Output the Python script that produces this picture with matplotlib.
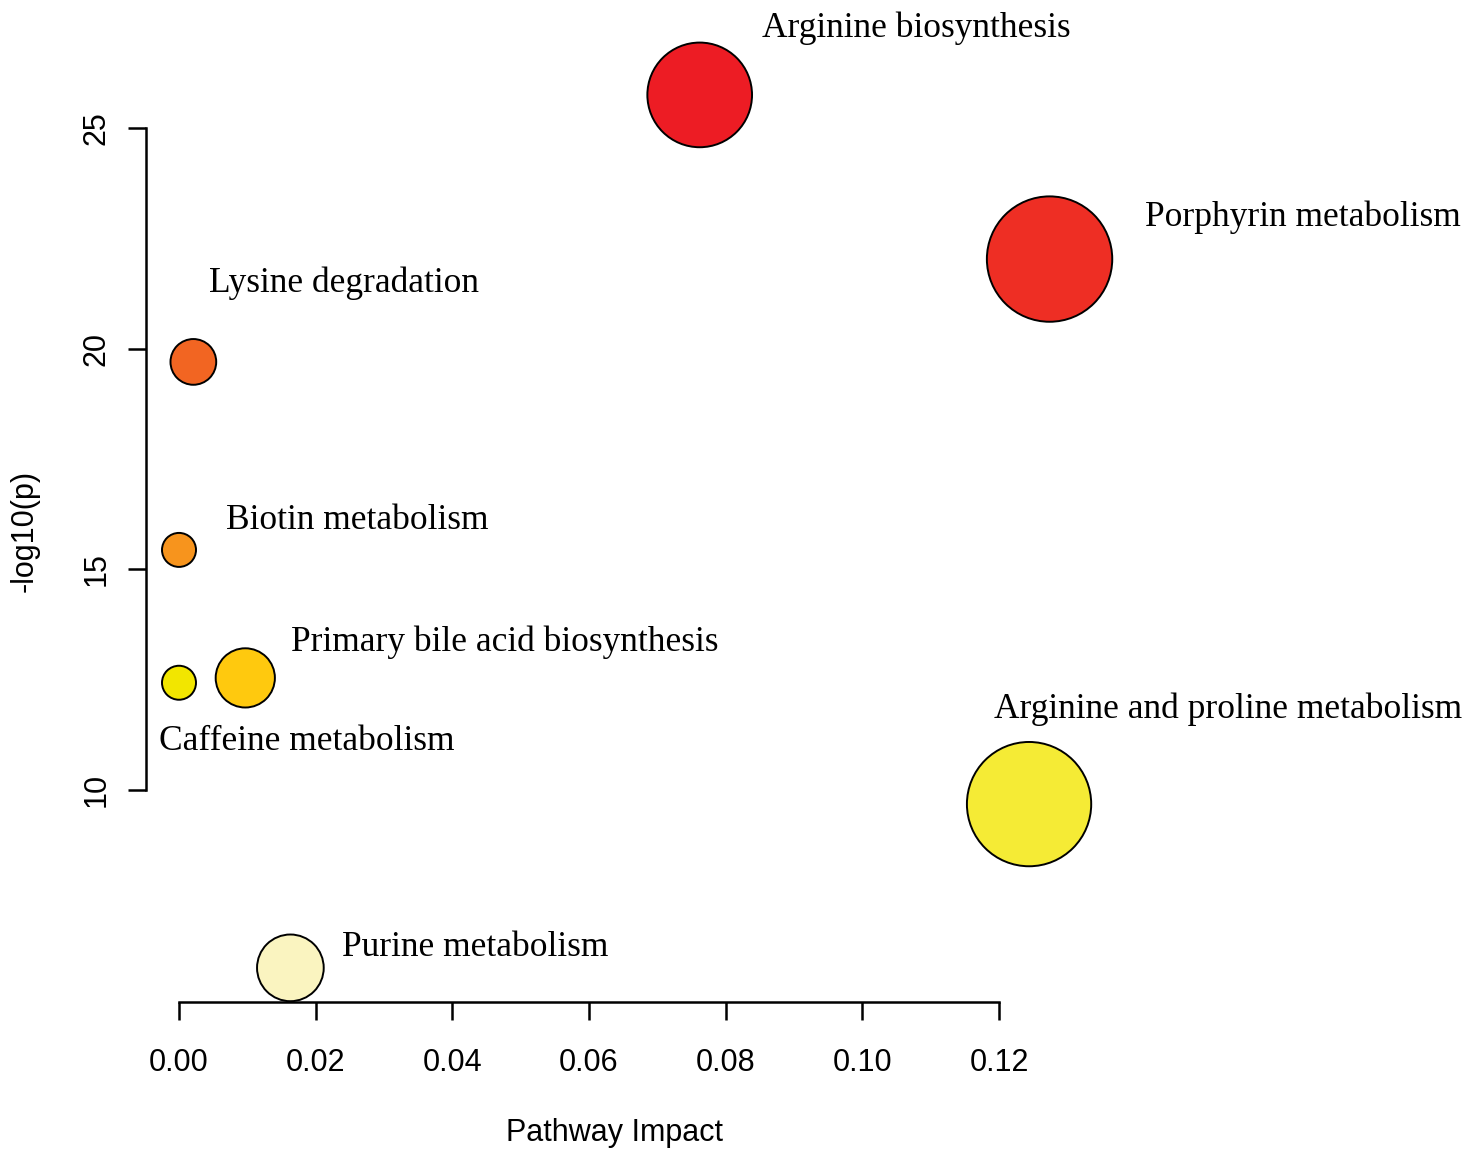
import numpy as np
import matplotlib
matplotlib.use("Agg")
import matplotlib.pyplot as plt

# pathway data
pathways = ["Arginine biosynthesis", "Porphyrin metabolism", "Lysine degradation",
            "Biotin metabolism", "Primary bile acid biosynthesis", "Caffeine metabolism",
            "Arginine and proline metabolism", "Purine metabolism"]
impact = [0.0762, 0.1274, 0.0021, 0.0, 0.0097, 0.0, 0.1244, 0.0163]
neglogp = [25.75, 22.03, 19.70, 15.44, 12.54, 12.43, 9.68, 5.97]
colors = ["#ED1C24", "#EE2E24", "#F26522", "#F7941D", "#FFC90E", "#F2E600", "#F5EB35", "#FAF4C0"]

# label offsets (pixels) relative to each bubble
label_dx = [62, 95, 16, 47, 46, -20, -35, 52]
label_dy = [67, 42, 79, 29, 36, -59, 95, 20]

xticks = [0.00, 0.02, 0.04, 0.06, 0.08, 0.10, 0.12]
yticks = [10, 15, 20, 25]

W, H = 1476, 1164
fig = plt.figure(figsize=(W / 100, H / 100), dpi=100)
# axes box in pixels: left spine at x=146, bottom spine at y=1002
ax = fig.add_axes([146 / W, (H - 1002) / H, (W - 146) / W, 1002 / H])

# bubble radius (px) grows with impact
radius = 17 + 128 * np.sqrt(np.array(impact))
sizes = (2 * radius * 72 / 100) ** 2

ax.scatter(impact, neglogp, s=sizes, c=colors, edgecolors="black", linewidths=1.4, zorder=3,
           clip_on=False)

for name, x, y, dx, dy in zip(pathways, impact, neglogp, label_dx, label_dy):
    ax.annotate(name, (x, y), xytext=(dx, dy), textcoords="offset pixels",
                ha="left", va="center", fontsize=25.5, family="Liberation Serif")

ax.set_xlim(-33 / 6833.3, (W - 179) / 6833.3)
ax.set_ylim(25 - 874 / 44.133, 25 + 128 / 44.133)

for side in ["top", "right"]:
    ax.spines[side].set_visible(False)
ax.spines["left"].set_bounds(10, 25)
ax.spines["bottom"].set_bounds(0, 0.12)
ax.spines["left"].set_linewidth(1.8)
ax.spines["bottom"].set_linewidth(1.8)

ax.set_xticks(xticks)
ax.set_xticklabels(["%.2f" % t for t in xticks], family="Liberation Sans", fontsize=22)
ax.set_yticks(yticks)
ax.set_yticklabels([str(t) for t in yticks], family="Liberation Sans", fontsize=22,
                   rotation=90, va="center")
ax.tick_params(axis="both", length=13, width=1.8, direction="out")
ax.tick_params(axis="x", pad=20)
ax.tick_params(axis="y", pad=12)

ax.set_xlabel("Pathway Impact", family="Liberation Sans", fontsize=22)
ax.xaxis.set_label_coords((615 - 146) / 1330, (1002 - 1133) / 1002)
ax.xaxis.label.set_va("center")
ax.set_ylabel("-log10(p)", family="Liberation Sans", fontsize=22)
ax.yaxis.set_label_coords((25 - 146) / 1330, (1002 - 531) / 1002)
ax.yaxis.label.set_va("center")

fig.savefig("out.png", dpi=100)
